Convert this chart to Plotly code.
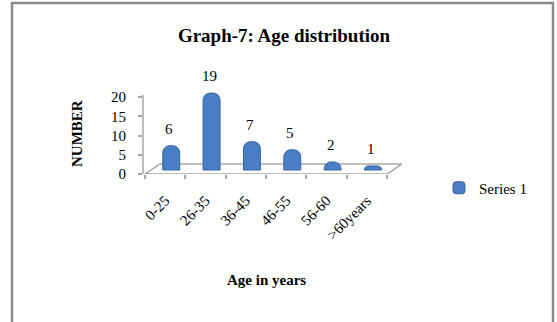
import plotly.graph_objects as go

categories = ["0-25", "26-35", "36-45", "46-55", "56-60", ">60years"]
values = [6, 19, 7, 5, 2, 1]
series_name = "Series 1"
y_ticks = [0, 5, 10, 15, 20]

W, H = 557, 322
L, T = 143, 60
R, B = 557 - 402, 322 - 174
pw, ph = W - L - R, H - T - B

def px_x(p):
    return (p - L) / pw

def px_y(p):
    return (H - B - p) / ph

serif = "Liberation Serif, Times New Roman, serif"
gray = "#a6a6a6"
blue = "#4a7ec4"

fig = go.Figure()
fig.add_trace(go.Bar(
    x=categories, y=values, name=series_name, yaxis="y2",
    width=0.42, offset=-0.06,
    marker=dict(color=blue, line=dict(color="#3563a3", width=1), cornerradius=7),
    cliponaxis=False,
))

annotations = []
for c, v in zip(categories, values):
    annotations.append(dict(x=c, y=v, xref="x", yref="y2", text=str(v), showarrow=False,
                            xshift=4, yshift=17, font=dict(family=serif, size=15, color="#000")))
annotations.append(dict(x=px_x(266), y=px_y(280), xref="paper", yref="paper", text="<b>Age in years</b>",
                        xanchor="center", yanchor="middle",
                        showarrow=False, font=dict(family=serif, size=15, color="#000")))
annotations.append(dict(x=px_x(77), y=px_y(134), xref="paper", yref="paper", text="<b>NUMBER</b>",
                        xanchor="center", yanchor="middle",
                        textangle=-90, showarrow=False, font=dict(family=serif, size=15, color="#000")))

n = len(categories)
back = 2.6
shapes = [
    # floor (3-D look)
    dict(type="path", xref="x", yref="y", layer="below",
         path=f"M -0.5,0 L {n-0.5},0 L {n-0.13},{back} L -0.13,{back} Z",
         line=dict(color=gray, width=1.5), fillcolor="white"),
    dict(type="line", xref="x", yref="y", x0=n - 0.5, x1=n - 0.5, y0=0, y1=-0.8,
         line=dict(color=gray, width=1.5)),
    # y axis line
    dict(type="line", xref="x domain", yref="y", x0=0, x1=0, y0=0, y1=20.5,
         line=dict(color=gray, width=1.5)),
    # chart border
    dict(type="rect", xref="paper", yref="paper", x0=px_x(12), x1=px_x(553), y0=px_y(3), y1=px_y(340),
         line=dict(color="#8a8a8a", width=2.5), fillcolor="rgba(0,0,0,0)", layer="below"),
]

fig.update_layout(
    width=W, height=H,
    margin=dict(l=L, r=R, t=T, b=B, autoexpand=False),
    paper_bgcolor="white", plot_bgcolor="rgba(0,0,0,0)",
    title=dict(text="<b>Graph-7: Age distribution</b>", x=284 / W, xanchor="center",
               y=1 - 35 / H, yanchor="middle", yref="container",
               font=dict(family=serif, size=19, color="#000")),
    xaxis=dict(type="category", range=[-0.55, n - 0.13], showgrid=False, showline=False,
               zeroline=False, tickson="boundaries", ticks="outside", ticklen=4, tickcolor=gray,
               tickwidth=1.5, tickangle=-45, ticklabelstandoff=14, automargin=False,
               tickfont=dict(family=serif, size=15, color="#000")),
    yaxis=dict(range=[0, ph / 3.85], tickvals=y_ticks, ticks="outside", ticklen=4, tickcolor=gray,
               tickwidth=1.5, showgrid=False, showline=False, zeroline=False, automargin=False,
               ticklabelstandoff=9, tickfont=dict(family=serif, size=15, color="#000")),
    yaxis2=dict(overlaying="y", range=[-4 / 4.05, (170 - T) / 4.05], visible=False),
    showlegend=True,
    legend=dict(x=px_x(439), y=px_y(188), xanchor="left", yanchor="middle", itemwidth=30,
                font=dict(family=serif, size=15, color="#000"), bgcolor="rgba(0,0,0,0)"),
    annotations=annotations,
    shapes=shapes,
    bargap=0.5,
)

fig.write_html("out.html", config={"displayModeBar": False},
               post_script="document.body.style.margin='0';document.body.style.overflow='hidden';")
